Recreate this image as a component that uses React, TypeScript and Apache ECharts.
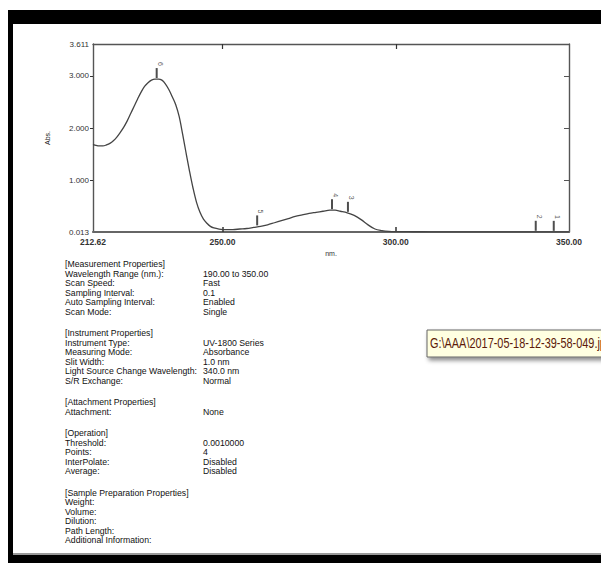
import React, { useEffect, useRef } from "react";
import * as echarts from "echarts";

// Spectrum (wavelength nm, absorbance)
const wavelengths = [
  212.62, 213.5, 214.5, 215.5, 216.5, 217.5, 218.5, 219.5, 220.5, 221.5, 222.5, 223.5, 224.5, 225.5,
  226.5, 227.5, 228.5, 229.5, 230.5, 231.5, 232.5, 233.5, 234.5, 235.5, 236.5, 237.5, 238.5, 239.5,
  240.5, 241.5, 242.5, 243.5, 244.5, 245.5, 246.5, 247.5, 249, 251, 253, 255, 257, 259, 261, 263,
  265, 267, 269, 271, 273, 275, 277, 279, 281, 282.5, 284, 286, 288, 290, 292, 294, 296, 298, 300,
  305, 310, 320, 330, 340, 345, 350,
];
const absorbance = [
  1.69, 1.67, 1.66, 1.66, 1.68, 1.71, 1.76, 1.83, 1.92, 2.02, 2.14, 2.28, 2.42, 2.56,
  2.69, 2.8, 2.87, 2.92, 2.94, 2.94, 2.92, 2.85, 2.74, 2.6, 2.45, 2.22, 1.88, 1.52,
  1.17, 0.85, 0.58, 0.39, 0.26, 0.18, 0.12, 0.09, 0.07, 0.06, 0.06, 0.07, 0.08, 0.1, 0.12, 0.15,
  0.19, 0.23, 0.27, 0.31, 0.34, 0.37, 0.39, 0.41, 0.43, 0.43, 0.41, 0.38, 0.33, 0.25, 0.15, 0.07,
  0.04, 0.025, 0.02, 0.018, 0.017, 0.016, 0.016, 0.017, 0.016, 0.015,
];

// Peak picks
const peakWaves = [231.0, 260.0, 281.6, 286.2, 340.4, 345.6];
const peakAbs = [2.94, 0.12, 0.43, 0.38, 0.017, 0.016];
const peakLabels = ["6", "5", "4", "3", "2", "1"];

// Axis ticks
const xMin = 212.62;
const xMax = 350.0;
const xLabelValues = [212.62, 250, 300, 350];
const xTickValues = [250, 300];
const yMin = 0.013;
const yMax = 3.611;
const yLabelValues = [0.013, 1, 2, 3, 3.611];
const yTickValues = [1, 2, 3];

// Report text
const reportLeft = [
  "[Measurement Properties]",
  "Wavelength Range (nm.):",
  "Scan Speed:",
  "Sampling Interval:",
  "Auto Sampling Interval:",
  "Scan Mode:",
  "",
  "[Instrument Properties]",
  "Instrument Type:",
  "Measuring Mode:",
  "Slit Width:",
  "Light Source Change Wavelength:",
  "S/R Exchange:",
  "",
  "[Attachment Properties]",
  "Attachment:",
  "",
  "[Operation]",
  "Threshold:",
  "Points:",
  "InterPolate:",
  "Average:",
  "",
  "[Sample Preparation Properties]",
  "Weight:",
  "Volume:",
  "Dilution:",
  "Path Length:",
  "Additional Information:",
];
const reportRight = [
  "",
  "190.00 to 350.00",
  "Fast",
  "0.1",
  "Enabled",
  "Single",
  "",
  "",
  "UV-1800 Series",
  "Absorbance",
  "1.0 nm",
  "340.0 nm",
  "Normal",
  "",
  "",
  "None",
  "",
  "",
  "0.0010000",
  "4",
  "Disabled",
  "Disabled",
  "",
  "",
  "",
  "",
  "",
  "",
  "",
];
const tooltipText = "G:\\AAA\\2017-05-18-12-39-58-049.jpg";

export default function App() {
  const ref = useRef<HTMLDivElement>(null);
  useEffect(() => {
    if (!ref.current) return;
    const chart = echarts.init(ref.current, undefined, { renderer: "svg" });
    const curve = wavelengths.map((w, i) => [w, absorbance[i]]);
    const peaks = peakWaves.map((w, i) => ({ value: [w, peakAbs[i]], name: peakLabels[i] }));

    const textEls: any[] = [];
    let y = 264;
    const font = { fontFamily: "Liberation Sans, Arial", fontSize: 8.7, fill: "#111", textVerticalAlign: "middle" };
    reportLeft.forEach((t, i) => {
      if (t === "") {
        y += 12;
        return;
      }
      textEls.push({ type: "text", x: 65, y, style: { ...font, text: t } });
      if (reportRight[i]) {
        textEls.push({ type: "text", x: 203, y, style: { ...font, text: reportRight[i] } });
      }
      y += 9.5;
    });

    const axisLineStyle = { color: "#555", width: 1.4 };
    const labelFont = { fontFamily: "Liberation Sans, Arial", fontSize: 8, color: "#333" };

    chart.setOption({
      animation: false,
      backgroundColor: "#fff",
      grid: { left: 93, right: 32, top: 44, bottom: 331 },
      xAxis: [
        {
          type: "value",
          min: xMin,
          max: xMax,
          position: "bottom",
          name: "nm.",
          nameLocation: "middle",
          nameGap: 18,
          nameTextStyle: { ...labelFont, fontSize: 7 },
          axisLine: { show: true, lineStyle: { color: "#666", width: 2.2 } },
          axisTick: { show: true, inside: true, length: 5, customValues: xTickValues, lineStyle: { color: "#333", width: 1.5 } },
          axisLabel: {
            customValues: xLabelValues,
            formatter: (v: number) => v.toFixed(2),
            margin: 5,
            ...labelFont,
            fontSize: 8.5,
            fontWeight: "bold",
          },
          splitLine: { show: false },
        },
        {
          type: "value",
          min: xMin,
          max: xMax,
          position: "top",
          axisLine: { show: true, lineStyle: axisLineStyle },
          axisTick: { show: true, inside: true, length: 5, customValues: xTickValues, lineStyle: { color: "#333", width: 1.2 } },
          axisLabel: { show: false },
          splitLine: { show: false },
        },
      ],
      yAxis: [
        {
          type: "value",
          min: yMin,
          max: yMax,
          position: "left",
          name: "Abs.",
          nameLocation: "middle",
          nameGap: 42,
          nameRotate: 90,
          nameTextStyle: { ...labelFont, fontSize: 7, color: "#222" },
          axisLine: { show: true, lineStyle: axisLineStyle },
          axisTick: { show: true, inside: false, length: 3, customValues: yTickValues, lineStyle: { color: "#333", width: 1 } },
          axisLabel: {
            customValues: yLabelValues,
            formatter: (v: number) => v.toFixed(3),
            margin: 4,
            ...labelFont,
          },
          splitLine: { show: false },
        },
        {
          type: "value",
          min: yMin,
          max: yMax,
          position: "right",
          axisLine: { show: true, lineStyle: axisLineStyle },
          axisTick: { show: true, inside: true, length: 5, customValues: yTickValues, lineStyle: { color: "#555", width: 1 } },
          axisLabel: { show: false },
          splitLine: { show: false },
        },
      ],
      series: [
        {
          type: "line",
          data: curve,
          smooth: 0.35,
          showSymbol: false,
          lineStyle: { color: "#444", width: 1.3 },
          xAxisIndex: 0,
          yAxisIndex: 0,
        },
        {
          type: "scatter",
          data: peaks,
          symbol: "rect",
          symbolSize: [2, 10],
          symbolOffset: [0, -6],
          itemStyle: { color: "#222" },
          label: {
            show: true,
            position: "top",
            distance: 4,
            rotate: -90,
            formatter: (p: any) => p.name,
            fontFamily: "Liberation Sans, Arial",
            fontSize: 7,
            color: "#333",
          },
          xAxisIndex: 0,
          yAxisIndex: 0,
        },
      ],
      graphic: [
        { type: "rect", shape: { x: 8, y: 10, width: 593, height: 14 }, style: { fill: "#000" } },
        { type: "rect", shape: { x: 8, y: 10, width: 5, height: 553 }, style: { fill: "#000" } },
        { type: "rect", shape: { x: 8, y: 555, width: 593, height: 8 }, style: { fill: "#000" } },
        { type: "rect", shape: { x: 13, y: 553, width: 588, height: 2 }, style: { fill: "#999" } },
        ...textEls,
        {
          type: "rect",
          shape: { x: 427, y: 330, width: 180, height: 27 },
          style: {
            fill: "#ffffe1",
            stroke: "#666",
            lineWidth: 1,
            shadowBlur: 4,
            shadowOffsetX: 2,
            shadowOffsetY: 3,
            shadowColor: "rgba(0,0,0,0.45)",
          },
        },
        {
          type: "text",
          x: 430,
          y: 344,
          scaleX: 0.78,
          style: {
            text: tooltipText,
            fontFamily: "Liberation Sans, Arial",
            fontSize: 14,
            fill: "#5c1a0a",
            textVerticalAlign: "middle",
          },
        },
      ],
    });
    return () => chart.dispose();
  }, []);
  return (
    <div
      ref={ref}
      style={{ position: "absolute", left: 0, top: 0, width: 601, height: 563, background: "#fff" }}
    />
  );
}
